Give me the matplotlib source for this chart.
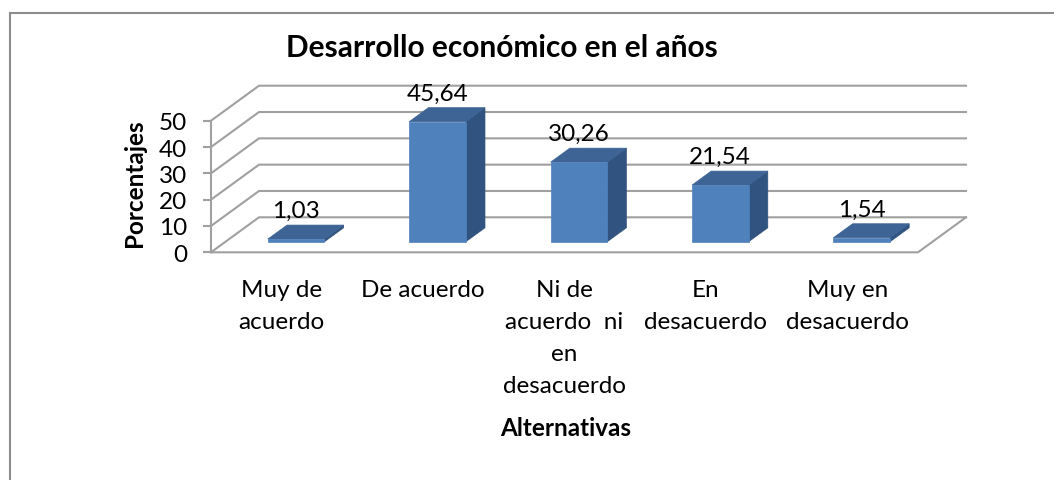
import matplotlib
matplotlib.use("Agg")
import matplotlib.pyplot as plt
from matplotlib.patches import Polygon, Rectangle

# ---- data -------------------------------------------------------------
categories = ["Muy de\nacuerdo", "De acuerdo", "Ni de\nacuerdo  ni\nen\ndesacuerdo",
              "En\ndesacuerdo", "Muy en\ndesacuerdo"]
values = [1.03, 45.64, 30.26, 21.54, 1.54]
yticks = [0, 10, 20, 30, 40, 50]
title = "Desarrollo económico en el años"
xlabel = "Alternativas"
ylabel = "Porcentajes"

# ---- style ------------------------------------------------------------
plt.rcParams["font.family"] = ["Lato", "DejaVu Sans"]
FRONT = "#4F81BD"
TOP = "#3D6495"
SIDE = "#31537F"
GRID = "#A0A0A0"
TXT = 17.5

W, H = 1054, 481
fig = plt.figure(figsize=(W / 100, H / 100), dpi=100)
fig.patch.set_facecolor("white")

# front plane of the 3-D box, in pixels
x_left, x_right = 211, 918
y_zero, y_top = 253.3, 121.7
ax = fig.add_axes([x_left / W, 1 - y_zero / H,
                   (x_right - x_left) / W, (y_zero - y_top) / H])
ax.set_xlim(-0.5, len(values) - 0.5)
ax.set_ylim(0, 50)
ax.set_facecolor("none")

# depth of the box in data units (oblique projection)
DX = 48 / ((x_right - x_left) / len(values))
DY = 35 / ((y_zero - y_top) / 50)


def proj(x, y, d):
    return (x + DX * d, y + DY * d)


x0, x1 = -0.5, len(values) - 0.5
# side wall diagonals + back wall lines
for v in yticks:
    p0 = proj(x0, v, 0)
    p1 = proj(x0, v, 1)
    p2 = proj(x1, v, 1)
    ax.plot([p0[0], p1[0], p2[0]], [p0[1], p1[1], p2[1]], color=GRID,
            lw=1.5, clip_on=False, zorder=1, solid_joinstyle="miter")
# floor front and right edges
f0 = proj(x0, 0, 0)
f1 = proj(x1, 0, 0)
f2 = proj(x1, 0, 1)
ax.plot([f0[0], f1[0], f2[0]], [f0[1], f1[1], f2[1]], color=GRID, lw=1.5,
        clip_on=False, zorder=1)

# 3-D columns
half = 0.2
d0, d1 = 0.3, 0.7
for i, v in enumerate(values):
    a, b = i - half, i + half
    front = [proj(a, 0, d0), proj(b, 0, d0), proj(b, v, d0), proj(a, v, d0)]
    side = [proj(b, 0, d0), proj(b, 0, d1), proj(b, v, d1), proj(b, v, d0)]
    top = [proj(a, v, d0), proj(b, v, d0), proj(b, v, d1), proj(a, v, d1)]
    for pts, col in ((side, SIDE), (top, TOP), (front, FRONT)):
        ax.add_patch(Polygon(pts, closed=True, facecolor=col, edgecolor=col,
                             lw=0.5, clip_on=False, zorder=3))
    cx, cy = proj(i, v, d0)
    ax.annotate(f"{v:.2f}".replace(".", ","), xy=(cx, cy), xytext=(0, 20.5),
                textcoords="offset points", ha="center", va="center",
                fontsize=TXT, color="black", zorder=4, annotation_clip=False)

# axes: left spine is the vertical value axis
for s in ("top", "right", "bottom"):
    ax.spines[s].set_visible(False)
ax.spines["left"].set_color(GRID)
ax.spines["left"].set_linewidth(1.5)
ax.set_yticks(yticks)
ax.tick_params(axis="y", direction="out", length=6, width=1.5, color=GRID,
               pad=11, labelsize=TXT)
ax.set_xticks(range(len(values)))
ax.set_xticklabels(categories, fontsize=TXT, linespacing=1.64)
ax.tick_params(axis="x", length=0, pad=19.5)

# titles
fig.text(502 / W, 1 - 48 / H, title, ha="center", va="center",
         fontsize=21.5, fontweight="bold")
fig.text(566 / W, 1 - 428 / H, xlabel, ha="center", va="center",
         fontsize=TXT, fontweight="bold")
fig.text(135 / W, 1 - 183 / H, ylabel, ha="center", va="center",
         rotation=90, fontsize=TXT, fontweight="bold")

# chart area border
fig.add_artist(Rectangle((9.5 / W, -0.1), 2, 1 - 14 / H + 0.1,
                         transform=fig.transFigure, fill=False,
                         edgecolor="#8C8C8C", lw=1.5))

fig.savefig("out.png", dpi=100, facecolor="white")
